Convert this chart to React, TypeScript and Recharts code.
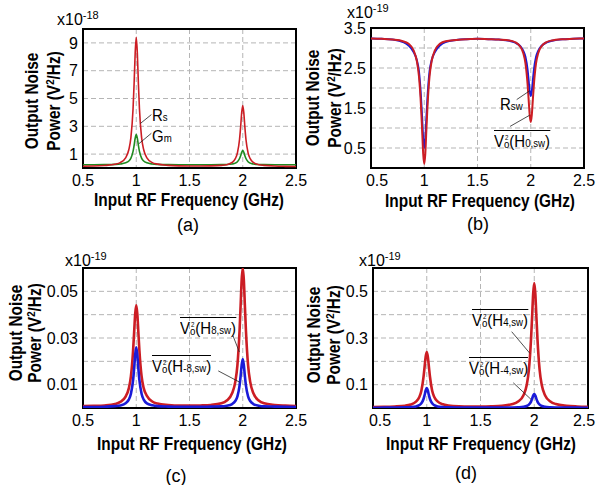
import React from 'react'
import {
  LineChart,
  Line,
  XAxis,
  YAxis,
  CartesianGrid,
  ReferenceLine,
  ReferenceArea,
} from 'recharts'

const FONT = "'Liberation Sans', Arial, sans-serif"

// input RF frequency samples (GHz), denser around the resonances
const FREQ = [
  0.5, 0.6, 0.7, 0.8, 0.85, 0.9, 0.93, 0.95, 0.97, 0.98, 0.99, 1.0, 1.01, 1.02, 1.03,
  1.05, 1.07, 1.1, 1.15, 1.2, 1.3, 1.4, 1.5, 1.6, 1.7, 1.8, 1.85, 1.9, 1.93, 1.95,
  1.97, 1.98, 1.99, 2.0, 2.01, 2.02, 2.03, 2.05, 2.07, 2.1, 2.15, 2.2, 2.3, 2.4, 2.5,
]
const X_TICKS = [0.5, 1, 1.5, 2, 2.5]

// (a) x1e-18
const RS_A = [
  0.13, 0.14, 0.18, 0.27, 0.39, 0.73, 1.31, 2.2, 4.26, 6.1, 8.28, 9.4, 8.28, 6.1, 4.26,
  2.2, 1.31, 0.73, 0.39, 0.28, 0.19, 0.15, 0.14, 0.14, 0.15, 0.19, 0.24, 0.4, 0.67, 1.09,
  2.07, 2.94, 3.97, 4.5, 3.97, 2.94, 2.07, 1.09, 0.67, 0.4, 0.24, 0.19, 0.14, 0.12, 0.11,
]
const GM_A = [
  0.23, 0.23, 0.24, 0.26, 0.29, 0.37, 0.5, 0.71, 1.19, 1.63, 2.14, 2.4, 2.14, 1.63, 1.19,
  0.71, 0.5, 0.37, 0.29, 0.26, 0.24, 0.23, 0.23, 0.23, 0.23, 0.24, 0.25, 0.29, 0.35, 0.45,
  0.68, 0.88, 1.13, 1.25, 1.13, 0.88, 0.68, 0.45, 0.35, 0.29, 0.25, 0.24, 0.23, 0.23, 0.23,
]

// (b) x1e-19
const RED_B = [
  3.24, 3.23, 3.21, 3.17, 3.11, 2.94, 2.68, 2.3, 1.52, 0.95, 0.36, 0.1, 0.36, 0.95, 1.52,
  2.3, 2.68, 2.94, 3.11, 3.17, 3.2, 3.22, 3.23, 3.22, 3.21, 3.19, 3.15, 3.04, 2.87, 2.62,
  2.1, 1.72, 1.33, 1.15, 1.33, 1.72, 2.1, 2.62, 2.87, 3.04, 3.15, 3.19, 3.22, 3.23, 3.24,
]
const BLUE_B = [
  3.24, 3.23, 3.21, 3.15, 3.07, 2.9, 2.7, 2.42, 1.74, 1.25, 0.73, 0.5, 0.73, 1.25, 1.74,
  2.42, 2.7, 2.9, 3.07, 3.15, 3.2, 3.22, 3.23, 3.22, 3.21, 3.18, 3.14, 3.05, 2.93, 2.78,
  2.46, 2.19, 1.92, 1.8, 1.92, 2.19, 2.46, 2.78, 2.93, 3.05, 3.14, 3.18, 3.22, 3.23, 3.24,
]

// (c) x1e-19
const RED_C = [
  0.0008, 0.0009, 0.0011, 0.0017, 0.0026, 0.0049, 0.0084, 0.0136, 0.0244, 0.0323, 0.0404, 0.044, 0.0404, 0.0323, 0.0244,
  0.0136, 0.0085, 0.0052, 0.0028, 0.0019, 0.0013, 0.001, 0.001, 0.0011, 0.0013, 0.002, 0.0032, 0.0063, 0.0112, 0.0184,
  0.0331, 0.0439, 0.055, 0.06, 0.055, 0.0439, 0.0331, 0.0184, 0.0112, 0.0063, 0.0032, 0.002, 0.0013, 0.001, 0.0008,
]
const BLUE_C = [
  0.0004, 0.0004, 0.0005, 0.0008, 0.0011, 0.002, 0.0036, 0.0061, 0.0118, 0.0169, 0.0229, 0.026, 0.0229, 0.0169, 0.0118,
  0.0061, 0.0036, 0.002, 0.0012, 0.0008, 0.0006, 0.0005, 0.0005, 0.0005, 0.0006, 0.0007, 0.001, 0.0017, 0.003, 0.005,
  0.0096, 0.0137, 0.0185, 0.021, 0.0185, 0.0137, 0.0096, 0.005, 0.003, 0.0017, 0.001, 0.0007, 0.0006, 0.0005, 0.0004,
]

// (d) x1e-19
const RED_D = [
  0.0045, 0.005, 0.0066, 0.01, 0.015, 0.027, 0.046, 0.074, 0.133, 0.176, 0.22, 0.24, 0.22, 0.177, 0.134,
  0.075, 0.047, 0.028, 0.016, 0.011, 0.007, 0.0062, 0.0063, 0.0073, 0.0099, 0.017, 0.028, 0.055, 0.099, 0.163,
  0.295, 0.391, 0.49, 0.535, 0.49, 0.391, 0.295, 0.163, 0.099, 0.055, 0.028, 0.017, 0.0094, 0.0066, 0.0053,
]
const BLUE_D = [
  0.0013, 0.0015, 0.0018, 0.0025, 0.0036, 0.0067, 0.012, 0.02, 0.0385, 0.055, 0.075, 0.085, 0.075, 0.055, 0.0385,
  0.02, 0.012, 0.0068, 0.0037, 0.0026, 0.0019, 0.0016, 0.0015, 0.0016, 0.0017, 0.0021, 0.0029, 0.005, 0.0087, 0.0143,
  0.0274, 0.039, 0.053, 0.06, 0.053, 0.039, 0.0274, 0.0143, 0.0087, 0.005, 0.0029, 0.0021, 0.0016, 0.0014, 0.0013,
]

const RED = '#cc1d24'
const GREEN = '#1f8a1f'
const BLUE = '#1a1ad8'
const NARROW = 'scaleX(0.88)'

type Seg = [number, number, number, number]
type Series = { key: string; values: number[]; color: string; width: number }

interface PanelProps {
  L: number
  T: number
  R: number
  B: number
  yMax: number
  yTicks: number[]
  yShown: number[]
  digits: number
  series: Series[]
  segments: Seg[]
  nudge?: [number, number] // shift of first / last x tick label
}

function Panel({ L, T, R, B, yMax, yTicks, yShown, digits, series, segments, nudge = [0, 0] }: PanelProps) {
  const data = FREQ.map((f, i) => {
    const row: any = { f }
    series.forEach((s) => (row[s.key] = s.values[i]))
    return row
  })
  const tick = { fill: '#000', fontSize: 16, fontFamily: FONT }
  const xTick = (p: any) => {
    const v = p.payload.value
    const dx = v === 0.5 ? nudge[0] : v === 2.5 ? nudge[1] : 0
    return (
      <text x={p.x + dx} y={p.y} dy="0.71em" textAnchor="middle" fill="#000" fontSize={16} fontFamily={FONT}>
        {String(v)}
      </text>
    )
  }
  return (
    <div style={{ position: 'absolute', left: L - 45, top: T - 10 }}>
      <LineChart
        width={R - L + 62}
        height={B - T + 40}
        data={data}
        margin={{ top: 10, right: 17, left: 0, bottom: 0 }}
      >
        <CartesianGrid stroke="#b5b5b5" strokeDasharray="5 3" />
        <XAxis
          dataKey="f"
          type="number"
          domain={[0.5, 2.5]}
          ticks={X_TICKS}
          interval={0}
          allowDataOverflow
          height={30}
          axisLine={false}
          tickLine={false}
          tickSize={6}
          tickMargin={1}
          tick={xTick}
        />
        <YAxis
          type="number"
          domain={[0, yMax]}
          ticks={yTicks}
          interval={0}
          allowDataOverflow
          width={45}
          axisLine={false}
          tickLine={false}
          tickSize={5}
          tickMargin={0}
          tick={tick}
          tickFormatter={(v) => (yShown.includes(v) ? Number(v).toFixed(digits) : '')}
        />
        {series.map((s) => (
          <Line
            key={s.key}
            dataKey={s.key}
            type="monotone"
            stroke={s.color}
            strokeWidth={s.width}
            dot={false}
            isAnimationActive={false}
          />
        ))}
        {segments.map((s, i) => (
          <ReferenceLine
            key={i}
            segment={[{ x: s[0], y: s[1] }, { x: s[2], y: s[3] }]}
            stroke="#222"
            strokeWidth={0.8}
          />
        ))}
        <ReferenceArea x1={0.5} x2={2.5} y1={0} y2={yMax} fill="none" stroke="#000" strokeWidth={2} />
      </LineChart>
    </div>
  )
}

const at = (x: number, y: number): React.CSSProperties => ({
  position: 'absolute',
  left: x,
  top: y,
  transform: 'translate(-50%, -50%)',
  whiteSpace: 'nowrap',
})

function YTitle({ x1, x2, y }: { x1: number; x2: number; y: number }) {
  const rot: React.CSSProperties = {
    fontWeight: 'bold',
    fontSize: 17.5,
    lineHeight: 1,
    transform: `translate(-50%, -50%) rotate(-90deg) ${NARROW}`,
  }
  return (
    <>
      <div style={{ ...at(x1, y), ...rot }}>Output Noise</div>
      <div style={{ ...at(x2, y), ...rot }}>
        Power (V<span style={{ fontSize: 11, position: 'relative', top: -6 }}>2</span>/Hz)
      </div>
    </>
  )
}

function Exponent({ x, y, exp }: { x: number; y: number; exp: string }) {
  return (
    <div style={{ position: 'absolute', left: x, top: y, fontSize: 16, lineHeight: 1, whiteSpace: 'nowrap' }}>
      x10<span style={{ fontSize: 11, position: 'relative', top: -6 }}>{exp}</span>
    </div>
  )
}

function XTitle({ x, y, tag, tx, ty }: { x: number; y: number; tag: string; tx: number; ty: number }) {
  return (
    <>
      <div style={{ ...at(x, y), fontWeight: 'bold', fontSize: 17.5, lineHeight: 1, transform: `translate(-50%, -50%) ${NARROW}` }}>
        Input RF Frequency (GHz)
      </div>
      <div style={{ ...at(tx, ty), fontSize: 18, lineHeight: 1 }}>{tag}</div>
    </>
  )
}

function VoLabel({ x, y, h }: { x: number; y: number; h: string }) {
  return (
    <div
      style={{
        position: 'absolute',
        left: x,
        top: y,
        borderTop: '1px solid #000',
        paddingTop: 3,
        fontSize: 17,
        lineHeight: '15px',
        whiteSpace: 'nowrap',
        transform: NARROW,
        transformOrigin: 'left top',
      }}
    >
      V
      <span
        style={{
          display: 'inline-flex',
          flexDirection: 'column',
          alignItems: 'center',
          verticalAlign: 7,
          lineHeight: 1,
        }}
      >
        <span style={{ fontSize: 7 }}>2</span>
        <span style={{ fontSize: 11, marginTop: -2 }}>o</span>
      </span>
      (H<span style={{ fontSize: 11 }}>{h}</span>)
    </div>
  )
}

function Sub({ x, y, main, sub }: { x: number; y: number; main: string; sub: string }) {
  return (
    <div
      style={{
        position: 'absolute',
        left: x,
        top: y,
        fontSize: 17,
        lineHeight: 1,
        whiteSpace: 'nowrap',
        transform: NARROW,
        transformOrigin: 'left top',
      }}
    >
      {main}
      <span style={{ fontSize: 11 }}>{sub}</span>
    </div>
  )
}

export default function App() {
  return (
    <div
      style={{
        position: 'absolute',
        left: 0,
        top: 0,
        width: 597,
        height: 485,
        overflow: 'hidden',
        background: '#fff',
        fontFamily: FONT,
        color: '#000',
      }}
    >
      {/* (a) */}
      <Panel
        L={83}
        T={29}
        R={296}
        B={168}
        yMax={10}
        yTicks={[1, 3, 5, 7, 9]}
        yShown={[1, 3, 5, 7, 9]}
        digits={0}
        series={[
          { key: 'gm', values: GM_A, color: GREEN, width: 1.6 },
          { key: 'rs', values: RS_A, color: RED, width: 1.6 },
        ]}
        segments={[
          [1.142, 3.84, 1.038, 3.2],
          [1.142, 2.5, 1.025, 1.75],
        ]}
      />
      <YTitle x1={33} x2={55} y={101} />
      <Exponent x={57} y={12} exp="-18" />
      <XTitle x={189} y={201} tag="(a)" tx={188} ty={225} />
      <Sub x={152} y={107} main="R" sub="s" />
      <Sub x={152} y={128} main="G" sub="m" />

      {/* (b) */}
      <Panel
        L={371}
        T={28}
        R={584}
        B={168}
        yMax={3.5}
        yTicks={[0.5, 1, 1.5, 2, 2.5, 3, 3.5]}
        yShown={[0.5, 1.5, 2.5, 3.5]}
        digits={1}
        series={[
          { key: 'blue', values: BLUE_B, color: BLUE, width: 2 },
          { key: 'red', values: RED_B, color: RED, width: 2 },
        ]}
        segments={[
          [1.868, 1.71, 1.99, 1.93],
          [1.806, 1.04, 1.99, 1.32],
        ]}
        nudge={[6, 0]}
      />
      <YTitle x1={314} x2={336} y={98} />
      <Exponent x={347} y={5} exp="-19" />
      <XTitle x={480} y={202} tag="(b)" tx={478} ty={224} />
      <Sub x={500} y={96} main="R" sub="sw" />
      <VoLabel x={494} y={130} h="0,sw" />

      {/* (c) */}
      <Panel
        L={83}
        T={268}
        R={296}
        B={408}
        yMax={0.06}
        yTicks={[0.01, 0.02, 0.03, 0.04, 0.05]}
        yShown={[0.01, 0.03, 0.05]}
        digits={2}
        series={[
          { key: 'red', values: RED_C, color: RED, width: 2.6 },
          { key: 'blue', values: BLUE_C, color: BLUE, width: 2.6 },
        ]}
        segments={[
          [1.908, 0.031, 1.968, 0.024],
          [1.77, 0.0159, 1.974, 0.011],
        ]}
      />
      <YTitle x1={17} x2={36} y={333} />
      <Exponent x={65} y={253} exp="-19" />
      <XTitle x={192} y={445} tag="(c)" tx={176} ty={476} />
      <VoLabel x={180} y={317} h="8,sw" />
      <VoLabel x={152} y={355} h="-8,sw" />

      {/* (d) */}
      <Panel
        L={373}
        T={268}
        R={588}
        B={408}
        yMax={0.6}
        yTicks={[0.1, 0.2, 0.3, 0.4, 0.5]}
        yShown={[0.1, 0.3, 0.5]}
        digits={1}
        series={[
          { key: 'red', values: RED_D, color: RED, width: 2.6 },
          { key: 'blue', values: BLUE_D, color: BLUE, width: 2.6 },
        ]}
        segments={[
          [1.79, 0.327, 1.96, 0.234],
          [1.805, 0.108, 1.97, 0.037],
        ]}
        nudge={[7, -4]}
      />
      <YTitle x1={315} x2={335} y={335} />
      <Exponent x={359} y={253} exp="-19" />
      <XTitle x={481} y={445} tag="(d)" tx={466} ty={473} />
      <VoLabel x={472} y={309} h="4,sw" />
      <VoLabel x={469} y={357} h="-4,sw" />
    </div>
  )
}
